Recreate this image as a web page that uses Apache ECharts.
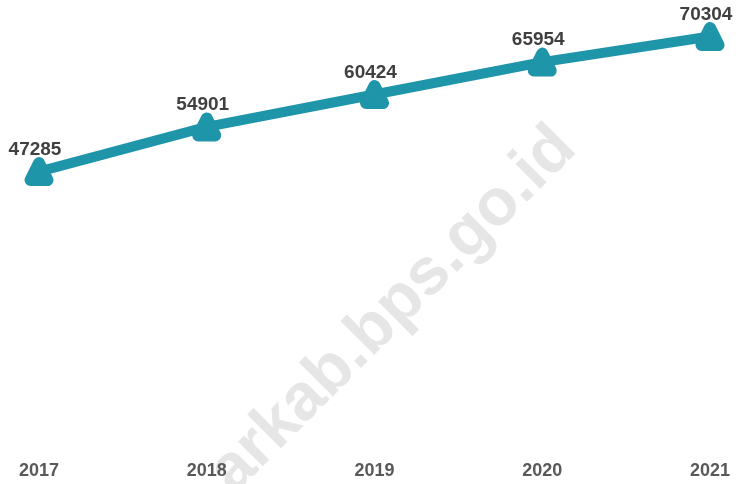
<!DOCTYPE html>
<html>
<head>
<meta charset="utf-8">
<script src="https://cdn.jsdelivr.net/npm/echarts@6/dist/echarts.min.js"></script>
<style>
  html, body { margin: 0; padding: 0; background: #fff; }
  #chart { width: 743px; height: 484px; }
</style>
</head>
<body>
<div id="chart"></div>
<script>
// data
const years = ['2017', '2018', '2019', '2020', '2021'];
const values = [47285, 54901, 60424, 65954, 70304];

const lineColor = '#1f95aa';
const fontFam = 'Arial, "Liberation Sans", sans-serif';

const chart = echarts.init(document.getElementById('chart'));

const option = {
    backgroundColor: '#fff',
    animation: false,
    grid: { left: 39, right: 33, top: 9, bottom: 35 },
    xAxis: {
        type: 'category',
        data: years,
        boundaryGap: false,
        axisLine: { show: false },
        axisTick: { show: false },
        axisLabel: {
            margin: 13,
            fontSize: 18,
            fontWeight: 'bold',
            fontFamily: fontFam,
            color: '#595959'
        }
    },
    yAxis: {
        type: 'value',
        min: 0,
        max: 75000,
        show: false,
        splitLine: { show: false }
    },
    // watermark behind the chart
    graphic: [{
        type: 'text',
        x: 244,
        y: 506,
        rotation: Math.PI / 4,
        z: -10,
        silent: true,
        style: {
            text: 'arkab.bps.go.id',
            fontSize: 66,
            fontWeight: 'bold',
            fontFamily: fontFam,
            fill: '#e6e6e6',
            textAlign: 'left',
            textVerticalAlign: 'bottom'
        }
    }],
    series: [{
        type: 'line',
        data: values,
        clip: false,
        symbol: 'triangle',
        symbolSize: 17,
        lineStyle: { color: lineColor, width: 10, cap: 'round' },
        itemStyle: {
            color: lineColor,
            borderColor: lineColor,
            borderWidth: 12,
            borderJoin: 'round'
        },
        label: {
            show: true,
            position: 'top',
            distance: 1,
            offset: [-4, 3],
            fontSize: 19,
            fontWeight: 'bold',
            fontFamily: fontFam,
            color: '#404040'
        }
    }]
};

chart.setOption(option);
</script>
</body>
</html>
